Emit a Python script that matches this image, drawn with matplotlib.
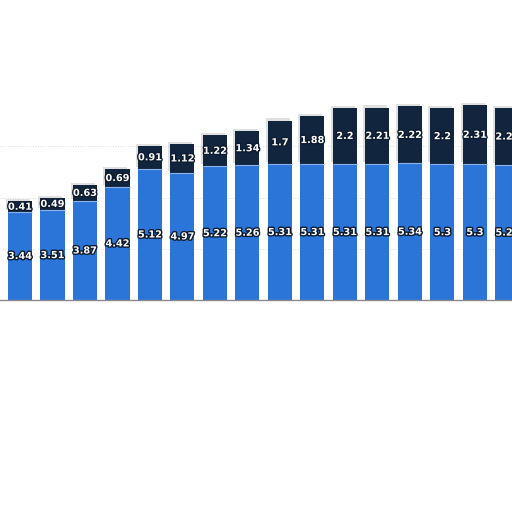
import matplotlib
matplotlib.use("Agg")
import matplotlib.pyplot as plt
import matplotlib.patheffects as pe
import numpy as np

categories = list(range(16))
series_blue = [3.44, 3.51, 3.87, 4.42, 5.12, 4.97, 5.22, 5.26, 5.31, 5.31, 5.31, 5.31, 5.34, 5.3, 5.3, 5.27]
series_dark = [0.41, 0.49, 0.63, 0.69, 0.91, 1.12, 1.22, 1.34, 1.7, 1.88, 2.2, 2.21, 2.22, 2.2, 2.31, 2.23]

blue = "#2b75d9"
dark = "#11253f"

fig = plt.figure(figsize=(5.12, 5.12), dpi=100)
ax = fig.add_axes([0, 0, 1, 1])
ax.set_xlim(-0.615, 15.14)
ax.set_ylim(-8.28, 11.72)
ax.axis("off")

x = np.array(categories)
b = np.array(series_blue)
d = np.array(series_dark)
w = 0.74

for gy in [2, 4, 6]:
    ax.axhline(gy, color="#d4d4d4", lw=0.6, ls=(0, (1, 2)), zorder=0)

shadow = [pe.SimplePatchShadow(offset=(-1.5, 1.5), shadow_rgbFace="#9a9a9a", alpha=0.3), pe.Normal()]
bb = ax.bar(x, b, width=w, color=blue, zorder=2)
db = ax.bar(x, d, bottom=b, width=w, color=dark, zorder=2)
for p in db:
    p.set_path_effects(shadow)
ax.hlines(b, x - w / 2, x + w / 2, color="#8db3ea", lw=0.8, zorder=3)
ax.axhline(0, color="#8a8a8a", lw=1.0, zorder=3)

stroke = [pe.withStroke(linewidth=2.0, foreground="#0d1b2e")]
for xi, bi, di in zip(x, b, d):
    ax.text(xi, bi / 2, f"{bi:g}", ha="center", va="center", color="white",
            fontsize=7, fontweight="bold", path_effects=stroke, zorder=4)
    ax.text(xi, bi + di / 2, f"{di:g}", ha="center", va="center", color="white",
            fontsize=7, fontweight="bold", path_effects=stroke, zorder=4)

fig.savefig("out.png", dpi=100)
